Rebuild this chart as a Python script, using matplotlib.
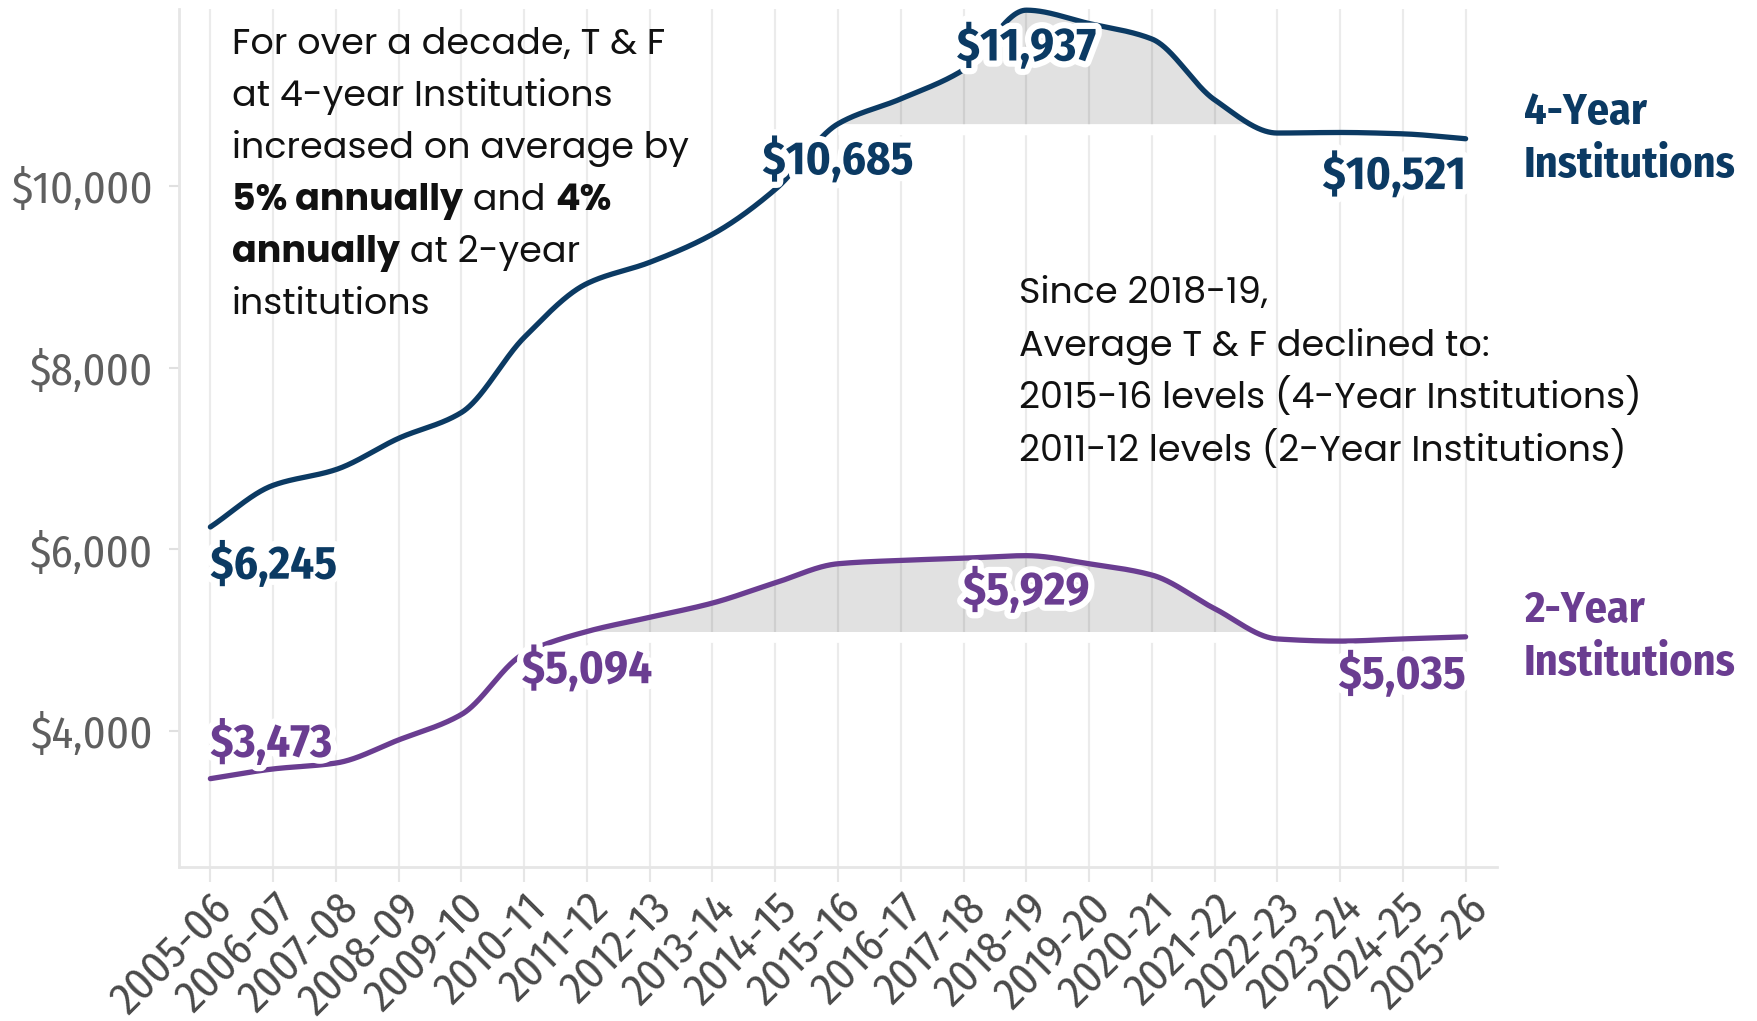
import numpy as np
import matplotlib
matplotlib.use("Agg")
import matplotlib.pyplot as plt
import matplotlib.patheffects as pe
from matplotlib.transforms import IdentityTransform
from matplotlib.font_manager import FontProperties
from matplotlib import font_manager as fm

# ---------------- data ----------------
years = ["2005-06", "2006-07", "2007-08", "2008-09", "2009-10", "2010-11",
         "2011-12", "2012-13", "2013-14", "2014-15", "2015-16", "2016-17",
         "2017-18", "2018-19", "2019-20", "2020-21", "2021-22", "2022-23",
         "2023-24", "2024-25", "2025-26"]
four_year = [6245, 6704, 6877, 7222, 7506, 8333, 8926, 9160, 9469, 9963,
             10685, 10960, 11280, 11937, 11790, 11620, 10950, 10584, 10590,
             10575, 10521]
two_year = [3473, 3580, 3645, 3900, 4180, 4850, 5094, 5250, 5407, 5630,
            5840, 5877, 5901, 5929, 5840, 5716, 5346, 5012, 4988, 5012, 5035]
yticks = [4000, 6000, 8000, 10000]
four_label_idx = [0, 10, 13, 20]
two_label_idx = [0, 6, 13, 20]
four_base_idx = 10   # 2015-16 level
two_base_idx = 6     # 2011-12 level
series_names = ["4-Year\nInstitutions", "2-Year\nInstitutions"]

note_left = [
    [("For over a decade, T & F", "normal")],
    [("at 4-year Institutions", "normal")],
    [("increased on average by", "normal")],
    [("5% annually", "bold"), (" and ", "normal"), ("4%", "bold")],
    [("annually", "bold"), (" at 2-year", "normal")],
    [("institutions", "normal")],
]
note_right = [
    [("Since 2018-19,", "normal")],
    [("Average T & F declined to:", "normal")],
    [("2015-16 levels (4-Year Institutions)", "normal")],
    [("2011-12 levels (2-Year Institutions)", "normal")],
]

# ---------------- fonts ----------------
def _w(f):
    w = f.weight
    if isinstance(w, str):
        w = fm.weight_dict.get(w, 400)
    return int(w)


def has(fam, weight, static=True):
    for f in fm.fontManager.ttflist:
        if f.name == fam and _w(f) == weight and f.style == "normal":
            if not static or "[" not in f.fname:
                return True
    return False


def pick(cands, weights, static=True, default="DejaVu Sans"):
    for c in cands:
        if all(has(c, w, static) for w in weights):
            return c
    return default


COND_LIST = ["Source Sans Pro", "Source Sans 3", "Fira Sans Condensed",
             "PT Sans Narrow", "IBM Plex Sans Condensed", "Liberation Sans"]
LABEL_FONT = pick(COND_LIST, [700])
TICK_FONT = pick(COND_LIST, [400], static=False)
NOTE_FONT = pick(["Montserrat", "Poppins", "Open Sans"], [400, 700])

# ---------------- style ----------------
NAVY = "#0b3a63"
PURPLE = "#6a3d91"
FILL = "#e1e1e1"


def pchip(x, y, xs):
    x = np.asarray(x, float)
    y = np.asarray(y, float)
    h = np.diff(x)
    delta = np.diff(y) / h
    d = np.zeros_like(y)
    for k in range(1, len(x) - 1):
        if delta[k - 1] * delta[k] > 0:
            w1 = 2 * h[k] + h[k - 1]
            w2 = h[k] + 2 * h[k - 1]
            d[k] = (w1 + w2) / (w1 / delta[k - 1] + w2 / delta[k])
    d[0] = delta[0]
    d[-1] = delta[-1]
    idx = np.clip(np.searchsorted(x, xs) - 1, 0, len(x) - 2)
    t = (xs - x[idx]) / h[idx]
    h00 = 2 * t**3 - 3 * t**2 + 1
    h10 = t**3 - 2 * t**2 + t
    h01 = -2 * t**3 + 3 * t**2
    h11 = t**3 - t**2
    return (h00 * y[idx] + h10 * h[idx] * d[idx] + h01 * y[idx + 1]
            + h11 * h[idx] * d[idx + 1])


W, H = 1758, 1021
fig = plt.figure(figsize=(W / 100, H / 100), dpi=100)
renderer = fig.canvas.get_renderer()


def text_w(s, prop):
    w1 = renderer.get_text_width_height_descent("|" + s + "|", prop, ismath=False)[0]
    w0 = renderer.get_text_width_height_descent("||", prop, ismath=False)[0]
    return w1 - w0


def fit_size(s, family, weight, target_px):
    prop = FontProperties(family=family, weight=weight, size=20)
    return 20 * target_px / text_w(s, prop)


tick_size = fit_size("$10,000", TICK_FONT, "normal", 142)
label_size = fit_size("$10,685", LABEL_FONT, "bold", 151)
name_size = fit_size("Institutions", LABEL_FONT, "bold", 213)
note_size = fit_size("2015-16 levels (4-Year Institutions)", NOTE_FONT, "normal", 624)

ax = fig.add_axes([179 / W, 1 - 867 / H, (1497 - 179) / W, (867 - 9) / H])

x = np.arange(len(years))
xs = np.linspace(0, len(years) - 1, 4001)
f4 = pchip(x, four_year, xs)
f2 = pchip(x, two_year, xs)
b4 = four_year[four_base_idx]
b2 = two_year[two_base_idx]
band = 120

for f, b in ((f4, b4), (f2, b2)):
    m = f >= b
    ax.fill_between(xs, f, b, where=m, interpolate=True, color=FILL, lw=0, zorder=1)
    ax.fill_between(xs, b - band, b, where=m, interpolate=True, color="white",
                    lw=0, zorder=1.8)

ax.plot(xs, f4, color=NAVY, lw=3.8, zorder=2.5, solid_capstyle="round", clip_on=False)
ax.plot(xs, f2, color=PURPLE, lw=3.8, zorder=2.5, solid_capstyle="round", clip_on=False)

ax.set_xlim(-0.5, len(years) - 0.5)
ax.set_ylim(2500, 11950)
ax.set_xticks(x)
ax.set_xticklabels(years, rotation=45, ha="right", va="top",
                   rotation_mode="anchor", family=TICK_FONT, fontsize=tick_size,
                   color="#4a4a4a")
ax.set_yticks(yticks)
ax.set_yticklabels([f"${v:,}" for v in yticks], family=TICK_FONT,
                   fontsize=tick_size, color="#5f5f5f")
ax.tick_params(axis="x", length=11, width=1.5, color="#e6e6e6", pad=3)
ax.tick_params(axis="y", length=7, width=1.5, color="#e0e0e0", pad=12)
for s in ("top", "right"):
    ax.spines[s].set_visible(False)
for s in ("left", "bottom"):
    ax.spines[s].set_color("#e6e6e6")
    ax.spines[s].set_linewidth(2)
ax.set_axisbelow("line")
ax.grid(axis="x", color="black", alpha=0.08, lw=1.6)
ax.grid(axis="y", visible=False)

halo = [pe.withStroke(linewidth=9, foreground="white")]


def label(series, color, i, ha, dy):
    ax.annotate(f"${series[i]:,}", xy=(i, series[i]), xytext=(0, dy),
                textcoords="offset points", ha=ha, va="center", color=color,
                fontsize=label_size, fontweight="bold", family=LABEL_FONT,
                path_effects=halo, zorder=4)


four_specs = {0: ("left", -28), 10: ("center", -27), 13: ("center", -27), 20: ("right", -27)}
two_specs = {0: ("left", 25), 6: ("center", -28), 13: ("center", -26), 20: ("right", -28)}
for i in four_label_idx:
    label(four_year, NAVY, i, *four_specs[i])
for i in two_label_idx:
    label(two_year, PURPLE, i, *two_specs[i])

name_prop = FontProperties(family=LABEL_FONT, weight="bold", size=name_size)
_, lp_h, lp_d = renderer.get_text_width_height_descent("lp", name_prop, ismath=False)
name_ls = 43 / (lp_h - lp_d)
for series, color, name in ((four_year, NAVY, series_names[0]),
                            (two_year, PURPLE, series_names[1])):
    ax.annotate(name, xy=(len(series) - 1, series[-1]), xytext=(42, 0),
                textcoords="offset points", ha="left", va="center", color=color,
                fontproperties=name_prop, linespacing=name_ls,
                annotation_clip=False)


# ---------------- notes ----------------
def note(lines, x0, base0, step, size):
    for k, pieces in enumerate(lines):
        xx = x0
        yy = H - (base0 + k * step)
        for s, wt in pieces:
            prop = FontProperties(family=NOTE_FONT, weight=wt, size=size)
            fig.text(xx, yy, s, transform=IdentityTransform(), fontproperties=prop,
                     ha="left", va="baseline", color="#111111")
            xx += text_w(s, prop)


note(note_left, 232, 54, 52, note_size)
note(note_right, 1019, 303, 52.7, note_size)

fig.savefig("out.png", dpi=100)
